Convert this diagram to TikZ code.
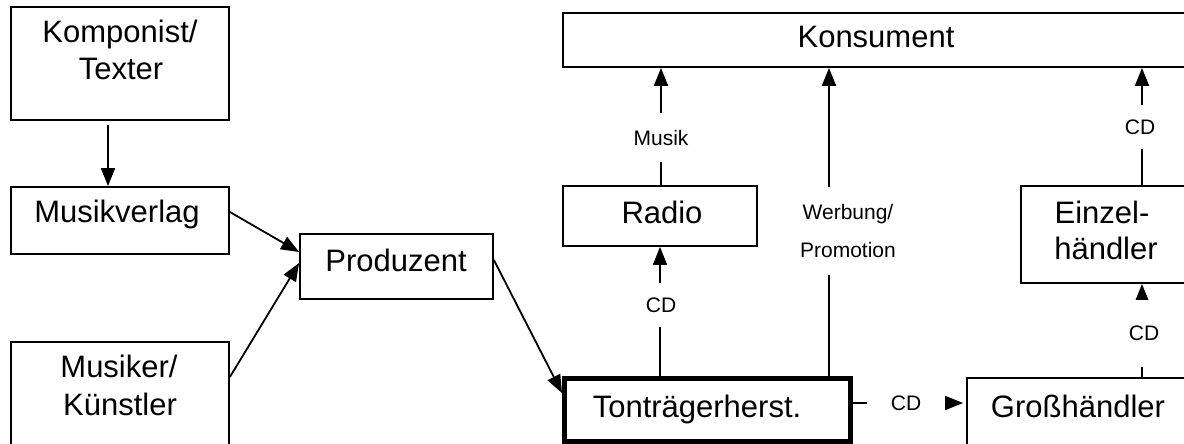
\documentclass[tikz,border=0pt]{standalone}
\usepackage{fontspec}
\setmainfont{Liberation Sans}
\usetikzlibrary{arrows.meta}
\begin{document}
\begin{tikzpicture}[x=1pt,y=-1pt,
  box/.style={draw, rectangle, line width=1.8pt, inner sep=0pt, outer sep=0.9pt},
  boldbox/.style={box, line width=5pt, outer sep=2.5pt},
  txt/.style={inner sep=0pt, anchor=base, font=\fontsize{31}{37}\selectfont},
  lbl/.style={fill=white, inner sep=0pt, font=\fontsize{21}{25}\selectfont},
  conn/.style={line width=1.8pt},
  arr/.style={conn, -{Triangle[length=18pt,width=14pt]}}]
\useasboundingbox (0,0) rectangle (1184,444);
\fill[white] (0,0) rectangle (1184,444);
\clip (0,0) rectangle (1184,444);

% boxes
\node[box, minimum width=218pt, minimum height=113pt] (komp) at (120,63.5) {};
\node[box, minimum width=218pt, minimum height=67pt] (mv) at (120,220.5) {};
\node[box, minimum width=218pt, minimum height=104pt] (mus) at (120,394) {};
\node[box, minimum width=193pt, minimum height=65pt] (prod) at (396.5,266.5) {};
\node[boldbox, minimum width=286pt, minimum height=62.5pt] (ton) at (707.5,410) {};
\node[box, minimum width=626pt, minimum height=54pt] (kons) at (876,40) {};
\node[box, minimum width=194pt, minimum height=60pt] (radio) at (660,216) {};
\node[box, minimum width=168pt, minimum height=97pt] (einz) at (1105,234.5) {};
\node[box, minimum width=222pt, minimum height=68pt] (gross) at (1078,412) {};

% box texts
\node[txt] (tkomp1) at (120,43) {Komponist/};
\node[txt] (tkomp2) at (121,80) {Texter};
\node[txt] (tmv) at (117,222) {Musikverlag};
\node[txt] (tmus1) at (119,377) {Musiker/};
\node[txt] (tmus2) at (120,415) {Künstler};
\node[txt] (tprod) at (396,271) {Produzent};
\node[txt] (tton) at (697,417) {Tonträgerherst.};
\node[txt] (tkons) at (876,48) {Konsument};
\node[txt] (tradio) at (662,223) {Radio};
\node[txt] (teinz1) at (1102,223) {Einzel-};
\node[txt] (teinz2) at (1106,259) {händler};
\node[txt] (tgross) at (1078,417) {Großhändler};

% connectors
\draw[arr, shorten <=4pt] ([xshift=-12pt]komp.south) -- ([xshift=-12pt]mv.north);
\draw[arr] ([yshift=8.5pt]mv.east) -- ([yshift=14.5pt]prod.west);
\draw[arr] ([yshift=17pt]mus.east) -- ([yshift=3.5pt]prod.west);
\draw[arr] ([yshift=6.5pt]prod.east) -- ([yshift=17pt]ton.west);
\draw[arr] (radio.south |- ton.north) -- (radio.south);
\draw[arr] ([xshift=1pt]radio.north) -- ([xshift=1pt]radio.north |- kons.south);
\draw[arr] ([xshift=121.5pt]ton.north) -- ([xshift=121.5pt]ton.north |- kons.south);
\draw[arr, shorten >=3pt] ([yshift=7pt]ton.east) -- ([yshift=7pt]ton.east -| gross.west);
\draw[arr] ([xshift=64pt]gross.north) -- ([xshift=64pt]gross.north |- einz.south);
\draw[arr] ([xshift=37pt]einz.north) -- ([xshift=37pt]einz.north |- kons.south);

% connector labels
\node[lbl, minimum height=49pt] (lmusik) at (661,137.5) {Musik};
\node[lbl, minimum height=88pt, align=center, font=\fontsize{21}{38}\selectfont] (lwerb) at (848,231) {Werbung/\\Promotion};
\node[lbl, minimum height=44pt] (lcd1) at (661,305) {CD};
\node[lbl, minimum width=78pt, minimum height=30pt] (lcd2) at (906,403) {CD};
\node[lbl, minimum height=67pt] (lcd3) at (1144,333) {CD};
\node[lbl, minimum height=44pt] (lcd4) at (1140,127) {CD};
\end{tikzpicture}
\end{document}
